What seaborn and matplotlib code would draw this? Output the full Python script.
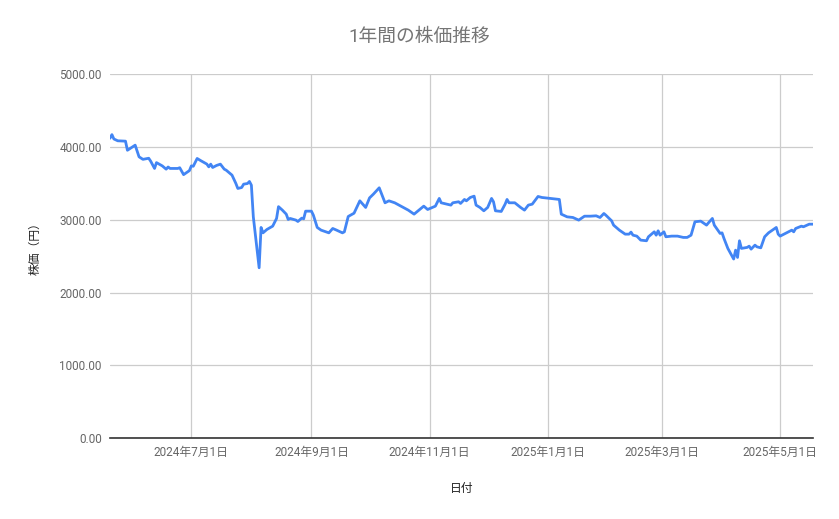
import matplotlib
matplotlib.use("Agg")
import matplotlib.pyplot as plt
import seaborn as sns
import pandas as pd

# 日付と株価 (チャートから読み取った値)
dates = [
    "2024-05-20", "2024-05-21", "2024-05-22", "2024-05-24", "2024-05-28", "2024-05-29",
    "2024-05-31", "2024-06-02", "2024-06-04", "2024-06-06", "2024-06-09", "2024-06-10",
    "2024-06-12", "2024-06-13", "2024-06-16", "2024-06-18", "2024-06-19", "2024-06-20",
    "2024-06-24", "2024-06-25", "2024-06-27", "2024-06-30", "2024-07-01", "2024-07-02",
    "2024-07-04", "2024-07-06", "2024-07-09", "2024-07-10", "2024-07-11", "2024-07-12",
    "2024-07-14", "2024-07-16", "2024-07-18", "2024-07-19", "2024-07-22", "2024-07-24",
    "2024-07-25", "2024-07-27", "2024-07-28", "2024-07-30", "2024-07-31", "2024-08-01",
    "2024-08-02", "2024-08-05", "2024-08-06", "2024-08-07", "2024-08-09", "2024-08-12",
    "2024-08-14", "2024-08-15", "2024-08-17", "2024-08-19", "2024-08-20", "2024-08-21",
    "2024-08-24", "2024-08-25", "2024-08-27", "2024-08-28", "2024-08-29", "2024-09-01",
    "2024-09-02", "2024-09-04", "2024-09-06", "2024-09-10", "2024-09-12", "2024-09-14",
    "2024-09-17", "2024-09-18", "2024-09-20", "2024-09-23", "2024-09-26", "2024-09-29",
    "2024-10-01", "2024-10-03", "2024-10-06", "2024-10-09", "2024-10-11", "2024-10-14",
    "2024-10-21", "2024-10-24", "2024-10-29", "2024-10-31", "2024-11-04", "2024-11-06",
    "2024-11-07", "2024-11-12", "2024-11-13", "2024-11-16", "2024-11-17", "2024-11-19",
    "2024-11-20", "2024-11-22", "2024-11-24", "2024-11-25", "2024-11-27", "2024-11-29",
    "2024-12-01", "2024-12-03", "2024-12-04", "2024-12-05", "2024-12-08", "2024-12-10",
    "2024-12-11", "2024-12-12", "2024-12-15", "2024-12-18", "2024-12-20", "2024-12-22",
    "2024-12-24", "2024-12-27", "2024-12-29", "2025-01-07", "2025-01-08", "2025-01-11",
    "2025-01-14", "2025-01-17", "2025-01-20", "2025-01-23", "2025-01-26", "2025-01-28",
    "2025-01-30", "2025-01-31", "2025-02-03", "2025-02-04", "2025-02-07", "2025-02-10",
    "2025-02-12", "2025-02-13", "2025-02-14", "2025-02-16", "2025-02-18", "2025-02-21",
    "2025-02-22", "2025-02-25", "2025-02-26", "2025-02-27", "2025-02-28", "2025-03-02",
    "2025-03-03", "2025-03-06", "2025-03-09", "2025-03-12", "2025-03-14", "2025-03-16",
    "2025-03-18", "2025-03-21", "2025-03-24", "2025-03-25", "2025-03-27", "2025-03-28",
    "2025-03-31", "2025-04-01", "2025-04-02", "2025-04-04", "2025-04-07", "2025-04-08",
    "2025-04-09", "2025-04-10", "2025-04-11", "2025-04-14", "2025-04-15", "2025-04-16",
    "2025-04-18", "2025-04-19", "2025-04-21", "2025-04-23", "2025-04-25", "2025-04-29",
    "2025-04-30", "2025-05-01", "2025-05-07", "2025-05-08", "2025-05-09", "2025-05-12",
    "2025-05-13", "2025-05-16", "2025-05-18",
]
prices = [
    4120, 4170, 4110, 4085, 4080, 3955,
    3990, 4025, 3865, 3830, 3845, 3805,
    3705, 3785, 3740, 3695, 3725, 3705,
    3705, 3715, 3620, 3675, 3740, 3735,
    3842, 3810, 3765, 3727, 3764, 3718,
    3746, 3764, 3695, 3681, 3613, 3498,
    3430, 3443, 3489, 3498, 3526, 3475,
    3040, 2340, 2894, 2820, 2866, 2912,
    3018, 3180, 3132, 3077, 3004, 3018,
    2995, 2976, 3022, 3013, 3118, 3118,
    3063, 2894, 2857, 2820, 2880, 2857,
    2820, 2834, 3045, 3090, 3260, 3169,
    3300, 3352, 3439, 3233, 3260, 3233,
    3132, 3077, 3187, 3141, 3187, 3293,
    3233, 3201, 3233, 3247, 3224, 3279,
    3260, 3306, 3324, 3201, 3169, 3123,
    3169, 3293, 3247, 3123, 3114, 3214,
    3279, 3233, 3233, 3169, 3132, 3201,
    3214, 3320, 3306, 3279, 3077, 3040,
    3031, 2995, 3049, 3049, 3054, 3031,
    3086, 3063, 2985, 2926, 2857, 2802,
    2802, 2830, 2788, 2775, 2720, 2711,
    2766, 2834, 2788, 2848, 2788, 2834,
    2766, 2775, 2775, 2757, 2757, 2788,
    2972, 2981, 2926, 2958, 3018, 2926,
    2812, 2820, 2743, 2606, 2460, 2582,
    2482, 2711, 2606, 2620, 2637, 2596,
    2651, 2628, 2614, 2766, 2820, 2894,
    2802, 2775, 2857, 2834, 2880, 2912,
    2903, 2939, 2939,
]

tick_dates = ["2024-07-01", "2024-09-01", "2024-11-01", "2025-01-01", "2025-03-01", "2025-05-01"]
tick_labels = ["2024年7月1日", "2024年9月1日", "2024年11月1日", "2025年1月1日", "2025年3月1日", "2025年5月1日"]
y_ticks = [0, 1000, 2000, 3000, 4000, 5000]

df = pd.DataFrame({"日付": pd.to_datetime(dates), "株価": prices})

sns.set_theme(style="white")
plt.rcParams["font.family"] = ["Roboto", "Noto Sans CJK JP", "DejaVu Sans"]

fig = plt.figure(figsize=(8.39, 5.19), dpi=100)
ax = fig.add_axes([0.1311, 0.156, 0.838, 0.701])

sns.lineplot(data=df, x="日付", y="株価", color="#4285f4", linewidth=2, ax=ax)

ax.set_xlim(df["日付"].iloc[0], df["日付"].iloc[-1])
ax.set_ylim(0, 5000)
ax.set_yticks(y_ticks)
ax.set_yticklabels([f"{v:.2f}" for v in y_ticks])
ax.set_xticks(pd.to_datetime(tick_dates))
ax.set_xticklabels(tick_labels)

ax.grid(True, color="#cccccc", linewidth=0.9)
ax.set_axisbelow(True)
for side in ["top", "right", "left"]:
    ax.spines[side].set_visible(False)
ax.spines["bottom"].set_color("#333333")
ax.spines["bottom"].set_linewidth(1.2)
ax.tick_params(axis="both", length=0, labelsize=8.5, colors="#666666")
ax.tick_params(axis="x", pad=6)
ax.tick_params(axis="y", pad=6)

ax.set_xlabel("日付", fontsize=8.5, color="#222222", labelpad=16)
ax.set_ylabel("株価（円）", fontsize=8.5, color="#222222")
ax.yaxis.set_label_coords(-0.098, 0.53)

fig.text(0.5, 0.928, "1年間の株価推移", ha="center", va="center", fontsize=13.5, color="#757575")

fig.savefig("out.png", dpi=100)
